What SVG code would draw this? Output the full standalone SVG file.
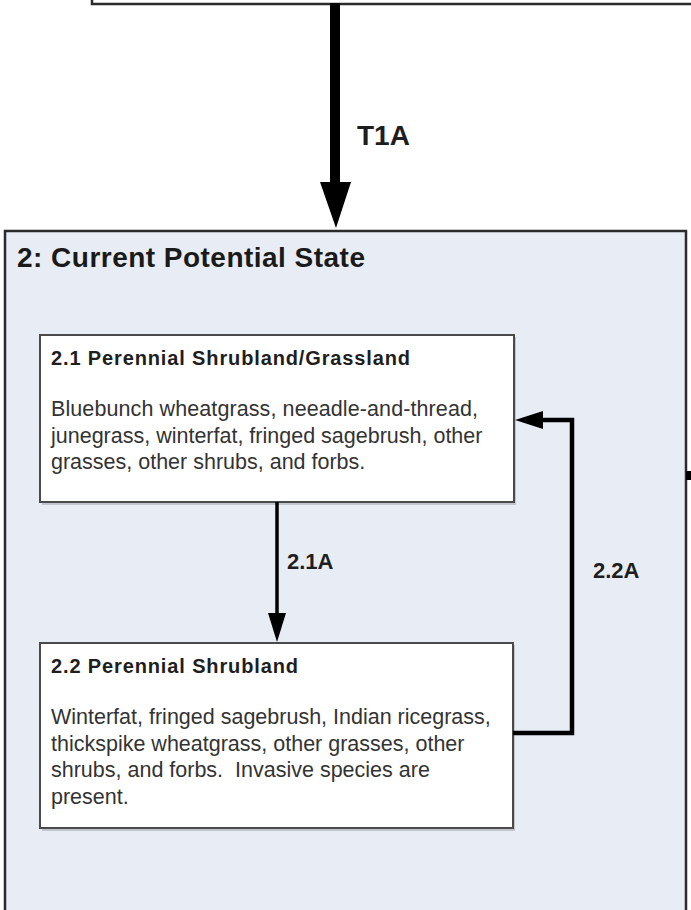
<svg xmlns="http://www.w3.org/2000/svg" width="691" height="910" viewBox="0 0 691 910">
<style>
.bg{fill:#ffffff}
.state{fill:#e8edf5;stroke:#2b2b2b;stroke-width:2.5}
.top{fill:#ffffff;stroke:#2b2b2b;stroke-width:2.5}
.phase{fill:#ffffff;stroke:#4a4a4a;stroke-width:2}
.shadow{fill:#9aa0a8;opacity:0.5}
.h1{font-family:"Liberation Sans",Arial,sans-serif;font-weight:bold;font-size:28px;fill:#1a1a1a}
.h2{font-family:"Liberation Sans",Arial,sans-serif;font-weight:bold;font-size:20px;fill:#1e1e1e}
.body{font-family:"Liberation Sans",Arial,sans-serif;font-size:21.5px;fill:#333333}
.lbl{font-family:"Liberation Sans",Arial,sans-serif;font-weight:bold;font-size:22px;fill:#1e1e1e}
.lblbig{font-family:"Liberation Sans",Arial,sans-serif;font-weight:bold;font-size:28px;fill:#1e1e1e}
.wire{fill:none;stroke:#000000}
</style>
<rect class="bg" x="0" y="0" width="691" height="910"/>
<g id="state1">
<rect class="top" x="92" y="-20" width="620" height="24"/>
</g>
<g id="state2">
<rect class="state" x="5" y="231" width="681" height="700"/>
<text class="h1" x="17" y="267" textLength="348" lengthAdjust="spacing">2: Current Potential State</text>
</g>
<g id="phase21">
<rect class="shadow" x="42" y="337" width="474" height="168"/>
<rect class="phase" x="40" y="335" width="474" height="167"/>
<text class="h2" x="51" y="365" textLength="359" lengthAdjust="spacing">2.1 Perennial Shrubland/Grassland</text>
<text class="body" x="51" y="416" textLength="427" lengthAdjust="spacing">Bluebunch wheatgrass, neeadle-and-thread,</text>
<text class="body" x="51" y="443">junegrass, winterfat, fringed sagebrush, other</text>
<text class="body" x="51" y="469">grasses, other shrubs, and forbs.</text>
</g>
<g id="phase22">
<rect class="shadow" x="42" y="645" width="473" height="186"/>
<rect class="phase" x="40" y="643" width="473" height="185"/>
<text class="h2" x="51" y="673" textLength="247" lengthAdjust="spacing">2.2 Perennial Shrubland</text>
<text class="body" x="51" y="724">Winterfat, fringed sagebrush, Indian ricegrass,</text>
<text class="body" x="51" y="751">thickspike wheatgrass, other grasses, other</text>
<text class="body" x="51" y="777" xml:space="preserve">shrubs, and forbs.  Invasive species are</text>
<text class="body" x="51" y="804">present.</text>
</g>
<g id="connectors">
<line class="wire" x1="335" y1="3" x2="335" y2="186" stroke-width="10"/>
<polygon points="320,182 351,182 336,228" fill="#000"/>
<text class="lblbig" x="357" y="145">T1A</text>
<line class="wire" x1="277" y1="502" x2="277" y2="616" stroke-width="3.5"/>
<polygon points="268,613 286,613 277,642" fill="#000"/>
<text class="lbl" x="287" y="569">2.1A</text>
<polyline class="wire" points="513,733 572,733 572,420 540,420" stroke-width="4.5"/>
<polygon points="543,411 543,429 515,420" fill="#000"/>
<text class="lbl" x="593" y="578">2.2A</text>
<rect x="686" y="471" width="5" height="9" fill="#000"/>
</g>
</svg>
